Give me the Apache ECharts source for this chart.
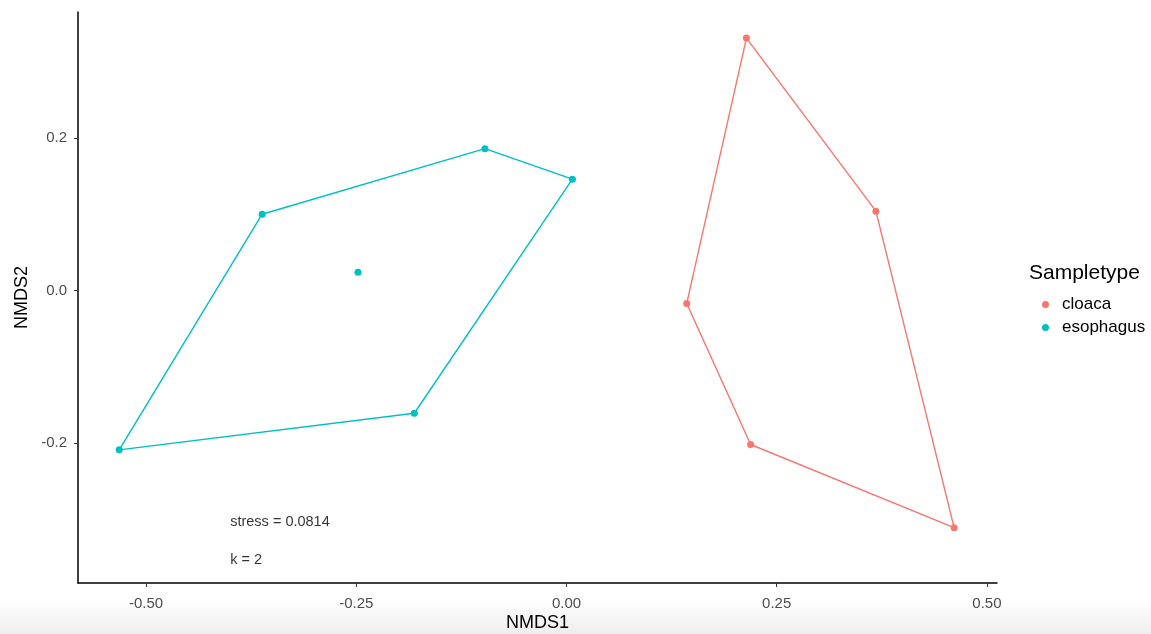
<!DOCTYPE html>
<html>
<head>
<meta charset="utf-8">
<script src="https://cdn.jsdelivr.net/npm/echarts@6/dist/echarts.min.js"></script>
<style>
  html, body { margin: 0; padding: 0; background: #fff; }
  #main { width: 1151px; height: 634px; }
</style>
</head>
<body>
<div id="main"></div>
<script>
// NMDS scores
var cloacaPts = [[0.214, 0.331], [0.368, 0.104], [0.461, -0.311], [0.219, -0.202], [0.143, -0.017]];
var esophagusPts = [[-0.532, -0.209], [-0.362, 0.100], [-0.097, 0.186], [0.007, 0.146], [-0.181, -0.161], [-0.248, 0.024]];
// convex hull order (index into the arrays above)
var cloacaHull = [0, 1, 2, 3, 4, 0];
var esophagusHull = [0, 1, 2, 3, 4, 0];
var xTicks = [-0.5, -0.25, 0, 0.25, 0.5];
var yTicks = [-0.2, 0, 0.2];
var notes = [
  { value: [-0.4, -0.303], text: 'stress = 0.0814' },
  { value: [-0.4, -0.354], text: 'k = 2' }
];

var RED = '#F8766D', TEAL = '#00BFC4';
var FONT = '"Liberation Sans", Arial, sans-serif';

function hull(pts, order) {
  return order.map(function (i) { return pts[i]; });
}

var chart = echarts.init(document.getElementById('main'));

chart.setOption({
  backgroundColor: '#fff',
  animation: false,
  grid: { left: 78, right: 154, top: 12, bottom: 51, outerBoundsMode: 'none', containLabel: false },
  xAxis: {
    type: 'value',
    min: -0.581,
    max: 0.512,
    name: 'NMDS1',
    nameLocation: 'middle',
    nameGap: 31,
    nameMoveOverlap: false,
    nameTextStyle: { color: '#000', fontSize: 18, fontFamily: FONT },
    splitLine: { show: false },
    axisLine: { onZero: false, lineStyle: { color: '#000', width: 1.5 } },
    axisTick: { show: true, length: 4, customValues: xTicks, lineStyle: { color: '#333' } },
    axisLabel: {
      customValues: xTicks,
      color: '#4d4d4d', fontSize: 15, fontFamily: FONT, margin: 13,
      formatter: function (v) { return v.toFixed(2); }
    }
  },
  yAxis: {
    type: 'value',
    min: -0.3836,
    max: 0.3652,
    name: 'NMDS2',
    nameLocation: 'middle',
    nameGap: 47,
    nameMoveOverlap: false,
    nameTextStyle: { color: '#000', fontSize: 18, fontFamily: FONT },
    splitLine: { show: false },
    axisLine: { onZero: false, lineStyle: { color: '#000', width: 1.5 } },
    axisTick: { show: true, length: 4, customValues: yTicks, lineStyle: { color: '#333' } },
    axisLabel: {
      customValues: yTicks,
      color: '#4d4d4d', fontSize: 15, fontFamily: FONT, margin: 11,
      formatter: function (v) { return v.toFixed(1); }
    }
  },
  legend: {
    orient: 'vertical',
    left: 1037,
    top: 291,
    itemWidth: 7,
    itemHeight: 7,
    itemGap: 6,
    icon: 'circle',
    textStyle: { color: '#000', fontSize: 17, fontFamily: FONT, padding: [0, 0, 0, 8] },
    data: ['cloaca', 'esophagus']
  },
  graphic: [
    {
      type: 'rect',
      left: 0, top: 598, z: -10, silent: true,
      shape: { width: 1151, height: 36 },
      style: {
        fill: new echarts.graphic.LinearGradient(0, 0, 0, 1, [
          { offset: 0, color: 'rgba(240,240,240,0)' },
          { offset: 1, color: 'rgba(238,238,238,1)' }
        ])
      }
    },
    {
      type: 'text',
      left: 1029,
      top: 263,
      style: { text: 'Sampletype', fill: '#000', fontSize: 21, fontFamily: FONT }
    }
  ],
  series: [
    {
      name: 'cloaca hull', type: 'line', data: hull(cloacaPts, cloacaHull),
      symbol: 'none', lineStyle: { color: RED, width: 1.4 }, z: 2
    },
    {
      name: 'esophagus hull', type: 'line', data: hull(esophagusPts, esophagusHull),
      symbol: 'none', lineStyle: { color: TEAL, width: 1.4 }, z: 2
    },
    {
      name: 'cloaca', type: 'scatter', data: cloacaPts, symbolSize: 7,
      itemStyle: { color: RED, opacity: 1 }, z: 3
    },
    {
      name: 'esophagus', type: 'scatter', data: esophagusPts, symbolSize: 7,
      itemStyle: { color: TEAL, opacity: 1 }, z: 3
    },
    {
      name: 'notes', type: 'scatter', symbolSize: 0, silent: true,
      data: notes.map(function (n) { return { value: n.value, text: n.text }; }),
      label: {
        show: true, position: 'right', distance: 0,
        formatter: function (p) { return p.data.text; },
        color: '#000', fontSize: 14.5, fontFamily: FONT
      }
    }
  ]
});
</script>
</body>
</html>
